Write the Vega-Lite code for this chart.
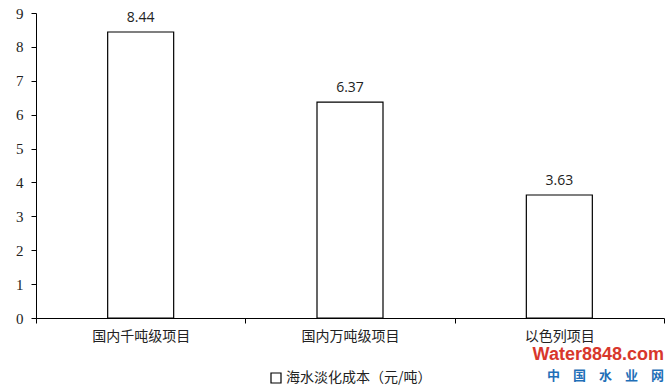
{
  "$schema": "https://vega.github.io/schema/vega-lite/v6.json",
  "width": 628,
  "height": 305,
  "autosize": {"type": "none"},
  "padding": {"left": 36, "top": 13, "right": 7, "bottom": 74},
  "background": "white",
  "title": {
    "text": "Water8848.com",
    "subtitle": "中　国　水　业　网",
    "orient": "bottom",
    "anchor": "end",
    "frame": "group",
    "offset": -40,
    "font": "Liberation Sans",
    "fontSize": 18,
    "fontWeight": "bold",
    "color": "#d8372c",
    "subtitleFont": "Noto Sans CJK SC",
    "subtitleFontSize": 13,
    "subtitleFontWeight": "bold",
    "subtitleColor": "#1f6fb8",
    "subtitlePadding": 6
  },
  "data": {
    "values": [
      {"project": "国内千吨级项目", "cost": 8.44, "series": "海水淡化成本（元/吨）"},
      {"project": "国内万吨级项目", "cost": 6.37, "series": "海水淡化成本（元/吨）"},
      {"project": "以色列项目", "cost": 3.63, "series": "海水淡化成本（元/吨）"}
    ]
  },
  "encoding": {
    "x": {
      "field": "project",
      "type": "nominal",
      "sort": null,
      "scale": {"paddingInner": 0, "paddingOuter": 0},
      "axis": {
        "title": null,
        "labelAngle": 0,
        "tickBand": "extent",
        "tickSize": 5,
        "tickColor": "black",
        "domainColor": "black",
        "labelFont": "Noto Sans CJK SC",
        "labelFontSize": 14,
        "labelColor": "#222",
        "labelPadding": 6
      }
    },
    "y": {
      "field": "cost",
      "type": "quantitative",
      "scale": {"domain": [0, 9], "nice": false},
      "axis": {
        "title": null,
        "values": [0, 1, 2, 3, 4, 5, 6, 7, 8, 9],
        "grid": false,
        "tickSize": 5,
        "tickColor": "black",
        "domainColor": "black",
        "labelFont": "Liberation Serif",
        "labelFontSize": 15,
        "labelColor": "#222",
        "labelPadding": 8
      }
    }
  },
  "layer": [
    {
      "mark": {"type": "bar", "size": 66, "stroke": "black", "strokeWidth": 1.2},
      "encoding": {
        "color": {
          "field": "series",
          "type": "nominal",
          "scale": {"range": ["white"]},
          "legend": {
            "title": null,
            "orient": "bottom",
            "symbolType": "square",
            "symbolStrokeColor": "black",
            "symbolStrokeWidth": 1.2,
            "symbolSize": 100,
            "labelOffset": 3,
            "labelFont": "Noto Sans CJK SC",
            "labelFontSize": 14,
            "labelColor": "#222",
            "offset": 28
          }
        }
      }
    },
    {
      "mark": {"type": "text", "dy": -14, "font": "Open Sans", "fontSize": 14, "color": "#222"},
      "encoding": {
        "text": {"field": "cost", "type": "quantitative", "format": ".2f"}
      }
    }
  ],
  "config": {
    "view": {"stroke": null},
    "legend": {"layout": {"bottom": {"anchor": "middle"}}}
  }
}
